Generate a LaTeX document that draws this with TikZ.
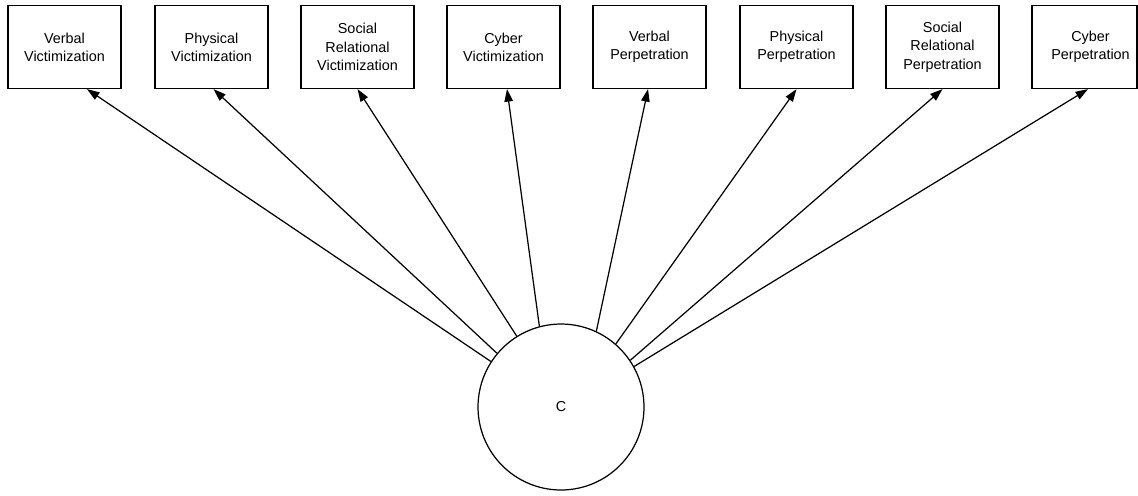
\documentclass[tikz,border=0pt]{standalone}
\usepackage{fontspec}
\setmainfont{Liberation Sans}
\usetikzlibrary{arrows.meta}

\tikzset{
  indbox/.style={draw, line width=0.7pt, minimum width=2.26cm, minimum height=1.66cm,
    align=center, inner sep=0pt, font=\fontsize{8.2}{10.4}\selectfont},
  factor/.style={draw, circle, line width=0.7pt, minimum size=3.32cm, inner sep=0pt,
    font=\fontsize{8.2}{10.4}\selectfont},
  path/.style={line width=0.7pt, -{Triangle[length=0.25cm, width=0.17cm]}}
}

\begin{document}
\begin{tikzpicture}[x=0.02cm, y=-0.02cm]
    \useasboundingbox (0,0) rectangle (1138,495);
    % indicators
    \foreach \i/\xx/\txt in {1/64.5/{Verbal\\Victimization}, 2/211.5/{Physical\\Victimization},
        3/357.5/{Social\\Relational\\Victimization}, 4/503.5/{Cyber\\Victimization},
        5/649.5/{Verbal\\Perpetration}, 6/796.5/{Physical\\Perpetration},
        7/942.5/{Social\\Relational\\Perpetration}}
      \node[indbox] (b\i) at (\xx,47) {\txt};
    \node[indbox, minimum width=2.1cm] (b8) at (1084.5,47) {\hspace*{0.24cm}Cyber\\\hspace*{0.24cm}Perpetration};
    % factor
    \node[factor] (C) at (561,407) {C};
    % loadings
    \draw[path] (C.147) -- ([xshift=0.45cm]b1.south);
    \draw[path] (C.140) -- ([xshift=0.04cm]b2.south);
    \draw[path] (C.122) -- (b3.south);
    \draw[path] (C.105) -- ([xshift=0.07cm]b4.south);
    \draw[path] (C.65) -- ([xshift=-0.03cm]b5.south);
    \draw[path] (C.49) -- (b6.south);
    \draw[path] (C.34) -- (b7.south);
    \draw[path] (C.29) -- ([xshift=0.07cm]b8.south);
\end{tikzpicture}
\end{document}
